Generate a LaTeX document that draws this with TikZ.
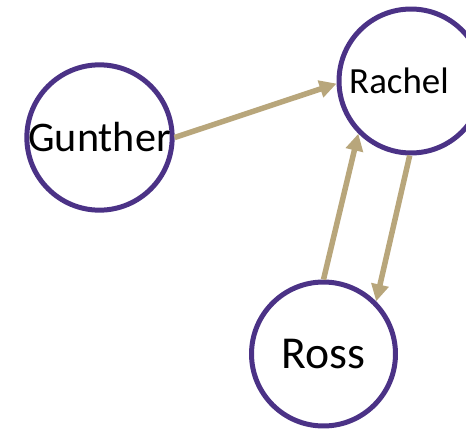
\documentclass[tikz,border=0pt]{standalone}
\usepackage{fontspec}
\setmainfont{Carlito}
\usetikzlibrary{arrows.meta}
\definecolor{friendpurple}{HTML}{4B3286}
\definecolor{friendtan}{HTML}{B8A67B}

\begin{document}
\begin{tikzpicture}[x=0.02cm, y=-0.02cm,
        person/.style={circle, draw=friendpurple, line width=0.1cm, minimum size=2.88cm, inner sep=0pt},
        crush/.style={draw=friendtan, line width=0.11cm, -{Triangle[length=0.34cm, width=0.34cm]}}]
        \useasboundingbox (0,0) rectangle (466,429);
        \node[person, font=\fontsize{24}{24}\selectfont] (gunther) at (99.5,137.5) {Gunther};
        \node[person] (rachel) at (411,81) {};
        \node[font=\fontsize{21}{21}\selectfont] (racheltext) at (399,81) {Rachel};
        \node[person, font=\fontsize{26}{26}\selectfont] (ross) at (323.5,354) {Ross};
        
        \draw[crush] (gunther.0) -- (rachel.182);
        \draw[crush] (ross.90) -- (rachel.225);
        \draw[crush] (rachel.269) -- (ross.45);
    \end{tikzpicture}
\end{document}
